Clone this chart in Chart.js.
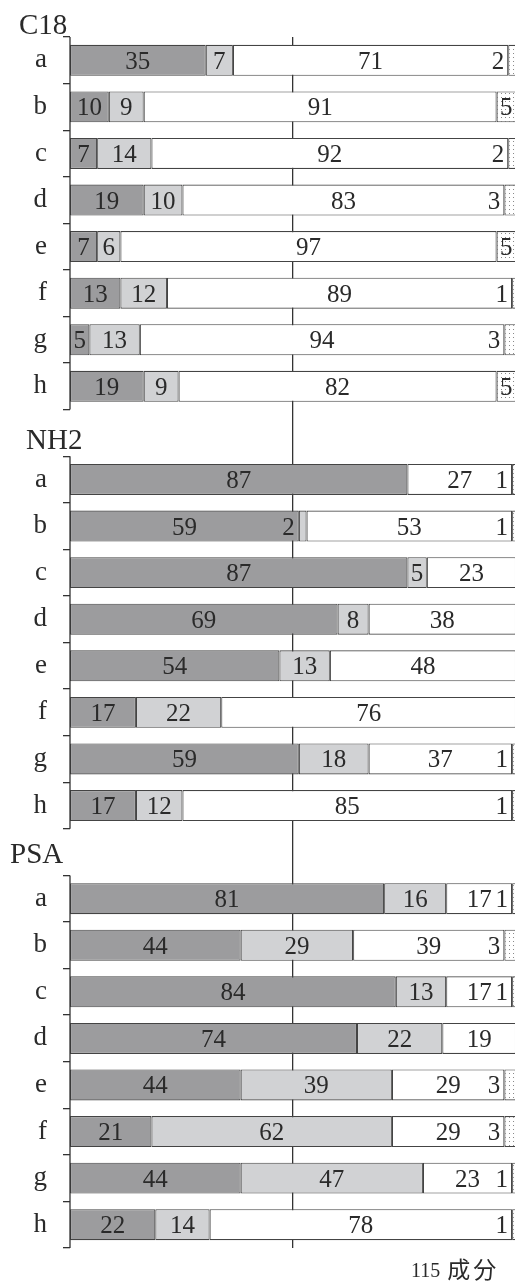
<!DOCTYPE html>
<html>
<head>
<meta charset="utf-8">
<script src="https://cdn.jsdelivr.net/npm/chart.js@4"></script>
<style>
  html, body { margin: 0; padding: 0; background: #fff; overflow: hidden; }
  #wrap { width: 515px; height: 1281px; overflow: hidden; }
</style>
</head>
<body>
<div id="wrap"><canvas id="chart" width="520" height="1281"></canvas></div>
<script>
const groupNames = ["C18", "NH2", "PSA"];
const rowLetters = ["a", "b", "c", "d", "e", "f", "g", "h"];
const totalComponents = 115;

const c18Dark = [35, 10, 7, 19, 7, 13, 5, 19];
const c18Light = [7, 9, 14, 10, 6, 12, 13, 9];
const c18White = [71, 91, 92, 83, 97, 89, 94, 82];
const c18Dotted = [2, 5, 2, 3, 5, 1, 3, 5];

const nh2Dark = [87, 59, 87, 69, 54, 17, 59, 17];
const nh2Light = [0, 2, 5, 8, 13, 22, 18, 12];
const nh2White = [27, 53, 23, 38, 48, 76, 37, 85];
const nh2Dotted = [1, 1, 0, 0, 0, 0, 1, 1];

const psaDark = [81, 44, 84, 74, 44, 21, 44, 22];
const psaLight = [16, 29, 13, 22, 39, 62, 47, 14];
const psaWhite = [17, 39, 17, 19, 29, 29, 23, 78];
const psaDotted = [1, 3, 1, 0, 3, 3, 1, 1];

// one empty slot between groups keeps the spacing of a full row
function joinGroups(parts, gap) {
  let out = [];
  parts.forEach((p, i) => {
    out = out.concat(p);
    if (i < parts.length - 1) out.push(gap);
  });
  return out;
}

const labels = joinGroups([rowLetters, rowLetters, rowLetters], "");
const groupStart = [0, 9, 18];

const SERIF = "'Liberation Serif', 'Times New Roman', serif";
const INK = "#2a2a2a";

function dotPattern() {
  const c = document.createElement("canvas");
  c.width = 4; c.height = 4;
  const g = c.getContext("2d");
  g.fillStyle = "#fff";
  g.fillRect(0, 0, 4, 4);
  g.fillStyle = "#8a8a8a";
  g.fillRect(1, 1, 1, 1);
  return g.createPattern(c, "repeat");
}

const barStyle = {
  borderColor: "#444",
  borderWidth: 1.1,
  borderSkipped: false,
  barPercentage: 0.665,
  categoryPercentage: 1
};

const datasets = [
  Object.assign({ data: joinGroups([c18Dark, nh2Dark, psaDark], null), backgroundColor: "#9c9c9e" }, barStyle),
  Object.assign({ data: joinGroups([c18Light, nh2Light, psaLight], null), backgroundColor: "#d1d2d4" }, barStyle),
  Object.assign({ data: joinGroups([c18White, nh2White, psaWhite], null), backgroundColor: "#ffffff" }, barStyle),
  Object.assign({ data: joinGroups([c18Dotted, nh2Dotted, psaDotted], null), backgroundColor: dotPattern(), borderColor: "#777" }, barStyle)
];

// segment values, group titles, split axis lines and the footer caption
const decorations = {
  id: "decorations",
  afterDatasetsDraw(chart) {
    const ctx = chart.ctx;
    ctx.save();
    ctx.fillStyle = INK;
    ctx.font = "25px " + SERIF;
    chart.data.datasets.forEach((ds, di) => {
      const meta = chart.getDatasetMeta(di);
      meta.data.forEach((bar, i) => {
        const v = ds.data[i];
        if (!v) return;
        const p = bar.getProps(["x", "base", "y"], true);
        const left = Math.min(p.x, p.base);
        const right = Math.max(p.x, p.base);
        if (v <= 3) {
          ctx.textAlign = "right";
          ctx.fillText(String(v), left - 4, p.y + 8.5);
        } else {
          ctx.textAlign = "center";
          ctx.fillText(String(v), (left + right) / 2, p.y + 8.5);
        }
      });
    });
    ctx.restore();
  },
  afterDraw(chart) {
    const ctx = chart.ctx;
    const y = chart.scales.y;
    const area = chart.chartArea;
    const band = y.getPixelForValue(1) - y.getPixelForValue(0);
    ctx.save();
    ctx.strokeStyle = "#333";
    ctx.lineWidth = 1.3;
    groupStart.forEach((s) => {
      const top = y.getPixelForValue(s) - band / 2;
      const bottom = y.getPixelForValue(s + rowLetters.length - 1) + band / 2;
      ctx.beginPath();
      ctx.moveTo(area.left, top);
      ctx.lineTo(area.left, bottom);
      ctx.stroke();
    });

    ctx.fillStyle = INK;
    ctx.textAlign = "left";
    ctx.font = "29px " + SERIF;
    const titleX = [19, 26, 10];
    const titleLift = [3, 7, 12];
    groupNames.forEach((name, gi) => {
      const top = y.getPixelForValue(groupStart[gi]) - band / 2;
      ctx.fillText(name, titleX[gi], top - titleLift[gi]);
    });

    // "115 成分" caption under the right end of the axis
    ctx.textAlign = "left";
    ctx.font = "20px " + SERIF;
    const num = String(totalComponents);
    ctx.fillText(num, 411, 1277);
    const numW = ctx.measureText(num).width;
    ctx.font = "23px 'Noto Sans CJK JP', sans-serif";
    ctx.letterSpacing = "3px";
    ctx.fillText("成分", 411 + numW + 7, 1278);
    ctx.restore();
  }
};

new Chart(document.getElementById("chart"), {
  type: "bar",
  data: { labels, datasets },
  options: {
    indexAxis: "y",
    responsive: false,
    animation: false,
    devicePixelRatio: 1,
    layout: { padding: { top: 37, bottom: 33, left: 0, right: 4 } },
    plugins: { legend: { display: false }, tooltip: { enabled: false } },
    scales: {
      x: {
        stacked: true,
        min: 0,
        max: totalComponents,
        afterBuildTicks(scale) { scale.ticks = [{ value: totalComponents / 2 }]; },
        afterFit(scale) { scale.height = 0; },
        ticks: { display: false },
        border: { display: false },
        grid: { color: "#333", lineWidth: 1.3, drawTicks: false }
      },
      y: {
        stacked: true,
        afterFit(scale) { scale.width = 70; },
        border: { display: false },
        grid: { offset: true, drawOnChartArea: false, drawTicks: true, tickLength: 7, color: "#333", lineWidth: 1.3 },
        ticks: { color: INK, padding: 16, font: { family: SERIF, size: 27 } }
      }
    }
  },
  plugins: [decorations]
});
</script>
</body>
</html>
